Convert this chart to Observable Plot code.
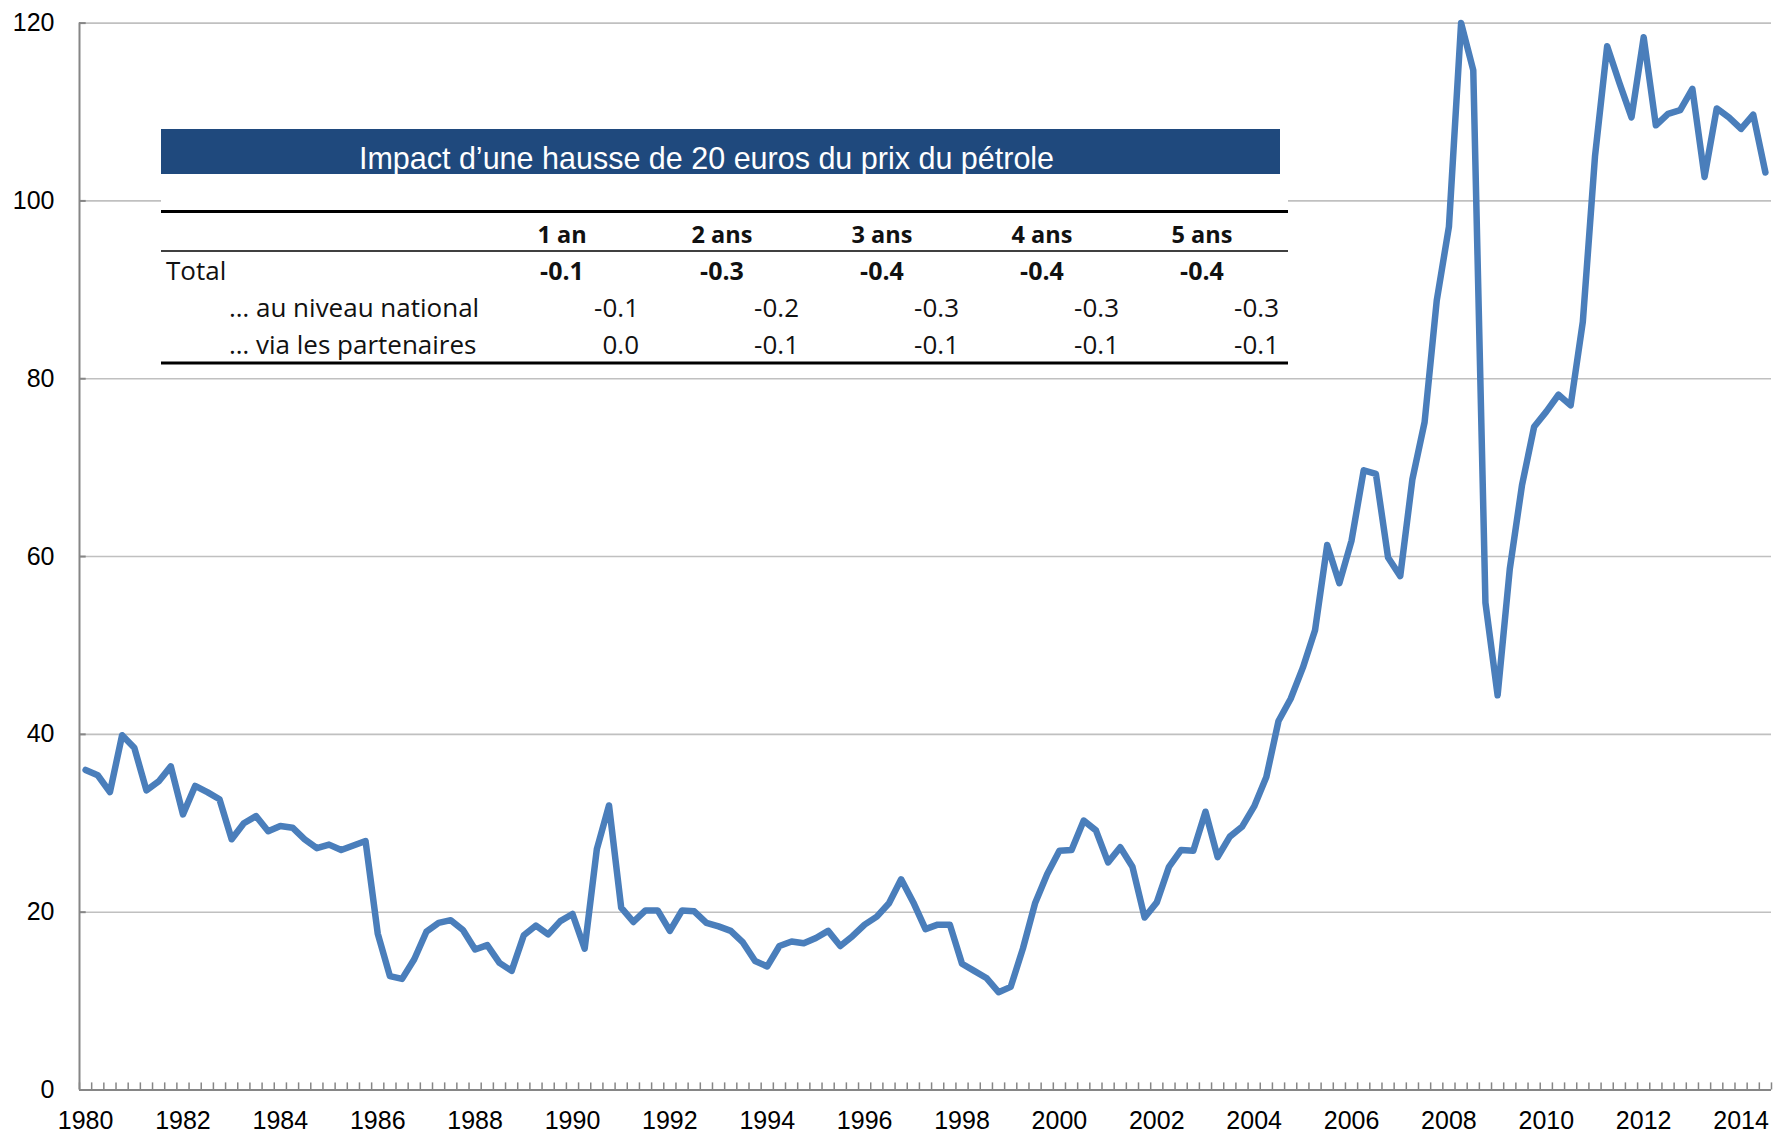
<!DOCTYPE html>
<html>
<head>
<meta charset="utf-8">
<script src="https://cdn.jsdelivr.net/npm/d3@7"></script>
<script src="https://cdn.jsdelivr.net/npm/@observablehq/plot@0.6"></script>
<style>
  html, body { margin: 0; padding: 0; background: #fff; }
  #chart { position: relative; width: 1774px; height: 1135px; }
</style>
</head>
<body>
<div id="chart"></div>
<script>
// Quarterly oil price (USD/bbl), 1980Q1 – 2014Q3
const startYear = 1980;
const values = [
  36.0, 35.4, 33.5, 39.9,   // 1980
  38.5, 33.7, 34.7, 36.4,   // 1981
  31.0, 34.2, 33.5, 32.7,   // 1982
  28.2, 30.0, 30.8, 29.1,   // 1983
  29.7, 29.5, 28.2, 27.2,   // 1984
  27.6, 27.0, 27.5, 28.0,   // 1985
  17.6, 12.8, 12.5, 14.7,   // 1986
  17.8, 18.8, 19.1, 18.0,   // 1987
  15.8, 16.3, 14.3, 13.4,   // 1988
  17.4, 18.5, 17.5, 19.0,   // 1989
  19.8, 15.9, 27.1, 32.0,   // 1990
  20.5, 18.9, 20.2, 20.2,   // 1991
  17.9, 20.2, 20.1, 18.8,   // 1992
  18.4, 17.9, 16.6, 14.5,   // 1993
  13.9, 16.2, 16.7, 16.5,   // 1994
  17.1, 17.9, 16.2, 17.3,   // 1995
  18.6, 19.5, 21.0, 23.7,   // 1996
  21.1, 18.1, 18.6, 18.6,   // 1997
  14.2, 13.4, 12.6, 11.0,   // 1998
  11.6, 15.9, 21.0, 24.3,   // 1999
  26.9, 27.0, 30.3, 29.2,   // 2000
  25.6, 27.3, 25.1, 19.4,   // 2001
  21.1, 25.1, 27.0, 26.9,   // 2002
  31.3, 26.2, 28.5, 29.6,   // 2003
  31.9, 35.2, 41.5, 44.0,   // 2004
  47.5, 51.7, 61.3, 57.0,   // 2005
  61.8, 69.7, 69.3, 59.9,   // 2006
  57.8, 68.7, 75.1, 88.8,   // 2007
  97.1, 120.0, 114.7, 54.8, // 2008
  44.4, 58.6, 68.0, 74.6,   // 2009
  76.3, 78.2, 77.0, 86.4,   // 2010
  105.0, 117.4, 113.3, 109.4, // 2011
  118.4, 108.5, 109.8, 110.2, // 2012
  112.6, 102.7, 110.4, 109.4, // 2013
  108.1, 109.7, 103.2         // 2014
];
const labelYears = [1980, 1982, 1984, 1986, 1988, 1990, 1992, 1994, 1996, 1998,
                    2000, 2002, 2004, 2006, 2008, 2010, 2012, 2014];
const yTicks = [0, 20, 40, 60, 80, 100, 120];

// Table inset
const tableTitle = "Impact d’une hausse de 20 euros du prix du pétrole";
const tableCols = ["1 an", "2 ans", "3 ans", "4 ans", "5 ans"];
const rowLabels = ["Total", "… au niveau national", "… via les partenaires"];
const totalVals = ["-0.1", "-0.3", "-0.4", "-0.4", "-0.4"];
const nationalVals = ["-0.1", "-0.2", "-0.3", "-0.3", "-0.3"];
const partnerVals = ["0.0", "-0.1", "-0.1", "-0.1", "-0.1"];

const data = values.map((v, i) => ({i, v}));
const n = values.length;
const tickPos = d3.range(0, n + 1).map(k => k - 0.5);
const labelIdx = labelYears.map(y => (y - startYear) * 4);

const plot = Plot.plot({
  width: 1774,
  height: 1135,
  marginLeft: 79,
  marginRight: 3,
  marginTop: 22.6,
  marginBottom: 45.5,
  style: {fontFamily: "'Liberation Sans', Arial, sans-serif", color: "#000", background: "#fff"},
  x: {domain: [-0.5, n - 0.5]},
  y: {domain: [0, 120]},
  marks: [
    Plot.ruleY(yTicks.filter(d => d > 0), {stroke: "#c0c0c0", strokeWidth: 1.6}),
    Plot.ruleX(tickPos, {y1: 0, y2: 0.8, stroke: "#868686", strokeWidth: 1.5}),
    Plot.ruleY(yTicks, {x1: -0.5, x2: 0.05, stroke: "#868686", strokeWidth: 2}),
    Plot.ruleY([0], {stroke: "#868686", strokeWidth: 2}),
    Plot.ruleX([-0.5], {stroke: "#868686", strokeWidth: 2}),
    Plot.axisY({ticks: yTicks, tickSize: 0, tickPadding: 25, fontSize: 25, label: null}),
    Plot.axisX({ticks: labelIdx, tickFormat: i => String(startYear + i / 4), tickSize: 0, tickPadding: 21, fontSize: 25, label: null}),
    Plot.line(data, {x: "i", y: "v", stroke: "#4a7ebb", strokeWidth: 6.5, strokeLinejoin: "round", strokeLinecap: "round"})
  ]
});
document.getElementById("chart").appendChild(plot);

// Draw table inset on top of the chart
const svg = d3.select(plot);
const g = svg.append("g").attr("class", "inset").attr("text-anchor", "start");
const L = 161, R = 1288, bannerR = 1280;
g.append("rect").attr("x", L).attr("y", 129).attr("width", R - L).attr("height", 238).attr("fill", "#fff");
g.append("rect").attr("x", L).attr("y", 129).attr("width", bannerR - L).attr("height", 45).attr("fill", "#1f497d");
g.append("text").attr("x", (L + bannerR) / 2 - 14).attr("y", 169).attr("text-anchor", "middle")
  .attr("fill", "#fff").style("font", "30.5px 'Liberation Sans', Arial, sans-serif").text(tableTitle);
g.append("line").attr("x1", L).attr("x2", R).attr("y1", 211.5).attr("y2", 211.5).attr("stroke", "#000").attr("stroke-width", 3);
g.append("line").attr("x1", L).attr("x2", R).attr("y1", 251).attr("y2", 251).attr("stroke", "#000").attr("stroke-width", 1.5);
g.append("line").attr("x1", L).attr("x2", R).attr("y1", 363).attr("y2", 363).attr("stroke", "#000").attr("stroke-width", 3);

const colRight = [640, 800, 960, 1120, 1280];
const colW = 160;
const tfont = "'Open Sans', 'Noto Sans', sans-serif";
const rowBase = [280, 317, 354];
// header
tableCols.forEach((c, k) => {
  g.append("text").attr("x", colRight[k] - colW / 2 + 2).attr("y", 243).attr("text-anchor", "middle")
    .attr("fill", "#111").style("font-family", tfont).style("font-size", "23.5px").style("font-weight", 700).text(c);
});
// row labels
rowLabels.forEach((r, j) => {
  g.append("text").attr("x", j === 0 ? 166 : 229).attr("y", rowBase[j]).attr("text-anchor", "start").attr("fill", "#111")
    .style("font-family", tfont).style("font-size", "26px").style("font-weight", 500).text(r);
});
totalVals.forEach((v, k) => {
  g.append("text").attr("x", colRight[k] - colW / 2 + 2).attr("y", rowBase[0]).attr("text-anchor", "middle")
    .attr("fill", "#111").style("font-family", tfont).style("font-size", "25px").style("font-weight", 700).text(v);
});
[nationalVals, partnerVals].forEach((arr, j) => {
  arr.forEach((v, k) => {
    g.append("text").attr("x", colRight[k] - 1).attr("y", rowBase[j + 1]).attr("text-anchor", "end")
      .attr("fill", "#111").style("font-family", tfont).style("font-size", "26px").style("font-weight", 500).text(v);
  });
});
</script>
</body>
</html>
